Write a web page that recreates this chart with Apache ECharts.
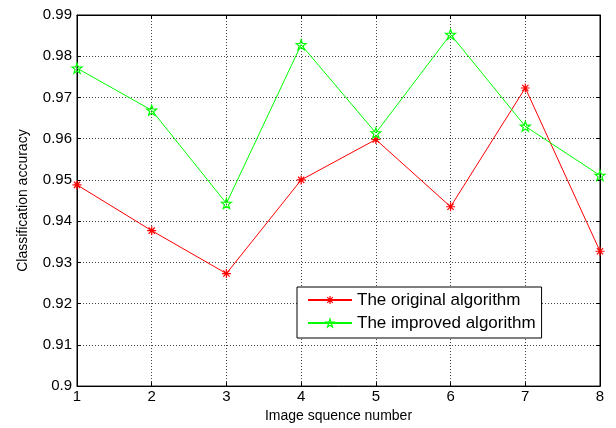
<!DOCTYPE html>
<html><head><meta charset="utf-8">
<script src="https://cdn.jsdelivr.net/npm/echarts@6/dist/echarts.min.js"></script>
<style>html,body{margin:0;padding:0;background:#fff}#c{width:616px;height:428px}</style>
</head><body><div id="c"></div>
<script>
const categories = [1, 2, 3, 4, 5, 6, 7, 8];
const originalValues = [0.9488, 0.9377, 0.9273, 0.9500, 0.9598, 0.9435, 0.9723, 0.9327];
const improvedValues = [0.9771, 0.9669, 0.9443, 0.9828, 0.9614, 0.9853, 0.9630, 0.9511];
const yTicks = [0.9, 0.91, 0.92, 0.93, 0.94, 0.95, 0.96, 0.97, 0.98, 0.99];

const asterisk = 'path://M0,-10L0,10M-10,0L10,0M-7,-7L7,7M-7,7L7,-7';
const star = 'path://M0,-10L2.35,-3.24L9.51,-3.09L3.8,1.24L5.88,8.09L0,4L-5.88,8.09L-3.8,1.24L-9.51,-3.09L-2.35,-3.24Z';
const font = 'Liberation Sans, Arial, sans-serif';

const chart = echarts.init(document.getElementById('c'), null, {renderer: 'canvas'});
const pts = a => a.map((v, i) => [categories[i], v]);
chart.setOption({
  animation: false,
  backgroundColor: '#fff',
  grid: {left: 77, right: 16, top: 15, bottom: 40, show: true, borderColor: '#000', borderWidth: 1},
  xAxis: [{
    type: 'value', min: 1, max: 8, interval: 1,
    name: 'Image squence number', nameLocation: 'middle', nameGap: 21,
    nameTextStyle: {fontFamily: font, fontSize: 14, color: '#000'},
    axisLine: {show: true, lineStyle: {color: '#000'}},
    axisTick: {inside: true, length: 4, lineStyle: {color: '#000'}},
    axisLabel: {fontFamily: font, fontSize: 15, color: '#000', margin: 3},
    splitLine: {show: true, lineStyle: {color: '#444', type: [1, 2], width: 1}}
  }, {
    type: 'value', min: 1, max: 8, interval: 1, position: 'top',
    axisLine: {show: true, lineStyle: {color: '#000'}},
    axisTick: {inside: true, length: 4, lineStyle: {color: '#000'}},
    axisLabel: {show: false}, splitLine: {show: false}
  }],
  yAxis: [{
    type: 'value', min: 0.9, max: 0.99, interval: 0.01,
    name: 'Classification accuracy', nameLocation: 'middle', nameGap: 47,
    nameTextStyle: {fontFamily: font, fontSize: 14, color: '#000'},
    axisLine: {show: true, lineStyle: {color: '#000'}},
    axisTick: {inside: true, length: 4, lineStyle: {color: '#000'}},
    axisLabel: {fontFamily: font, fontSize: 15, color: '#000', margin: 5,
      formatter: v => { const t = yTicks.find(x => Math.abs(x - v) < 1e-6); return t === undefined ? '' : String(t); }},
    splitLine: {show: true, lineStyle: {color: '#444', type: [1, 2], width: 1}}
  }, {
    type: 'value', min: 0.9, max: 0.99, interval: 0.01, position: 'right',
    axisLine: {show: true, lineStyle: {color: '#000'}},
    axisTick: {inside: true, length: 4, lineStyle: {color: '#000'}},
    axisLabel: {show: false}, splitLine: {show: false}
  }],
  legend: {
    left: 297, top: 287, orient: 'vertical', itemGap: 3,
    backgroundColor: '#fff', borderColor: '#000', borderWidth: 1,
    padding: [3, 6, 5, 10], itemWidth: 44, itemHeight: 10,
    textStyle: {fontFamily: font, fontSize: 17, color: '#000', lineHeight: 20, padding: [0, 0, 0, 0]},
    data: [
      {name: 'The original algorithm', itemStyle: {color: 'rgba(0,0,0,0)', borderColor: '#ff0000', borderWidth: 1.2}},
      {name: 'The improved algorithm', itemStyle: {color: 'rgba(0,0,0,0)', borderColor: '#00ff00', borderWidth: 1.2}}
    ]
  },
  series: [{
    name: 'The original algorithm', type: 'line', data: pts(originalValues),
    symbol: asterisk, symbolSize: 9,
    lineStyle: {color: '#ff0000', width: 1},
    itemStyle: {color: 'rgba(0,0,0,0)', borderColor: '#ff0000', borderWidth: 1.2}
  }, {
    name: 'The improved algorithm', type: 'line', data: pts(improvedValues),
    symbol: star, symbolSize: 10,
    lineStyle: {color: '#00ff00', width: 1},
    itemStyle: {color: 'rgba(0,0,0,0)', borderColor: '#00ff00', borderWidth: 1.2}
  }]
});
</script></body></html>
